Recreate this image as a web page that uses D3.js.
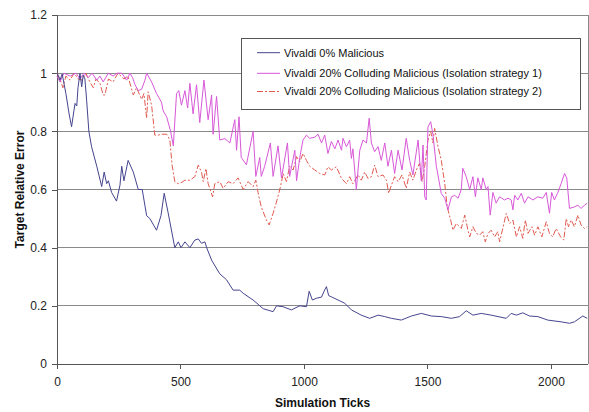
<!DOCTYPE html>
<html><head><meta charset="utf-8">
<script src="https://cdn.jsdelivr.net/npm/d3@7"></script>
<style>body{margin:0;background:#fff}svg{display:block}</style>
</head><body>
<svg id="c" width="589" height="412"></svg>
<script>
const seriesNames = ["Vivaldi 0% Malicious","Vivaldi 20% Colluding Malicious (Isolation strategy 1)","Vivaldi 20% Colluding Malicious (Isolation strategy 2)"];
const xTicks = [0,500,1000,1500,2000];
const yTicks = [0,0.2,0.4,0.6,0.8,1,1.2];

const blueT = [0,6,12,21,36,49,59,73,80,85,93,100,106,113,120,129,140,161,181,191,201,208,221,241,255,262,271,288,309,329,345,363,376,403,421,434,450,477,491,502,518,538,558,572,585,599,606,626,659,686,713,740,754,794,835,875,889,915,949,983,1010,1021,1034,1050,1071,1084,1091,1100,1111,1138,1165,1192,1232,1266,1300,1327,1354,1394,1435,1475,1516,1556,1597,1630,1657,1684,1718,1758,1819,1839,1860,1886,1913,1947,1987,2041,2075,2095,2129,2147];
const blueV = [1.0,0.99,0.976,0.997,0.93,0.86,0.816,0.896,0.887,0.95,1.0,0.953,0.993,0.98,0.907,0.80,0.747,0.68,0.61,0.66,0.62,0.63,0.59,0.56,0.615,0.68,0.63,0.70,0.66,0.60,0.60,0.51,0.50,0.46,0.51,0.587,0.52,0.40,0.42,0.40,0.42,0.40,0.426,0.43,0.415,0.42,0.40,0.357,0.31,0.29,0.254,0.254,0.243,0.22,0.19,0.18,0.20,0.197,0.186,0.20,0.197,0.25,0.22,0.226,0.23,0.255,0.266,0.235,0.231,0.22,0.209,0.186,0.168,0.157,0.168,0.163,0.157,0.151,0.165,0.174,0.165,0.163,0.157,0.163,0.183,0.168,0.174,0.168,0.157,0.174,0.168,0.176,0.165,0.163,0.151,0.145,0.14,0.145,0.165,0.157];

const pinkT = [0,12,28,53,77,93,109,127,142,161,174,187,208,227,243,262,282,295,306,316,329,343,356,363,383,403,423,430,444,460,471,484,493,504,518,529,538,551,565,578,595,612,626,632,646,659,680,700,720,727,737,746,767,794,805,821,827,841,864,875,895,909,933,942,963,970,983,996,1010,1023,1044,1057,1071,1084,1097,1111,1125,1138,1152,1158,1172,1185,1192,1198,1212,1226,1239,1253,1264,1273,1286,1300,1313,1327,1340,1354,1367,1381,1397,1414,1428,1441,1462,1475,1482,1489,1495,1502,1513,1522,1536,1556,1570,1583,1597,1610,1624,1637,1643,1657,1671,1684,1694,1704,1718,1724,1738,1745,1754,1765,1778,1792,1812,1826,1839,1846,1853,1866,1880,1893,1907,1927,1947,1967,1981,1994,2003,2014,2028,2041,2055,2064,2075,2095,2109,2122,2136,2147];
const pinkV = [0.99,0.97,1.0,0.99,1.0,0.98,1.0,0.985,1.0,0.976,0.99,0.97,1.0,0.99,1.0,1.0,0.976,1.0,0.985,0.96,0.94,0.945,0.976,1.0,0.97,0.93,0.90,0.87,0.85,0.80,0.75,0.93,0.94,0.89,0.94,0.88,0.965,0.86,0.96,0.83,0.976,0.84,0.925,0.79,0.92,0.77,0.775,0.76,0.84,0.735,0.85,0.71,0.685,0.80,0.645,0.71,0.645,0.68,0.76,0.645,0.75,0.64,0.76,0.645,0.735,0.63,0.71,0.77,0.787,0.776,0.78,0.79,0.76,0.787,0.724,0.765,0.74,0.77,0.735,0.776,0.747,0.77,0.707,0.74,0.60,0.735,0.77,0.76,0.845,0.76,0.73,0.747,0.70,0.76,0.68,0.735,0.655,0.735,0.667,0.776,0.70,0.65,0.77,0.63,0.753,0.575,0.564,0.815,0.833,0.79,0.68,0.586,0.57,0.53,0.575,0.58,0.57,0.60,0.673,0.644,0.60,0.644,0.575,0.64,0.60,0.64,0.60,0.61,0.512,0.59,0.553,0.575,0.564,0.57,0.564,0.53,0.58,0.564,0.587,0.553,0.575,0.564,0.575,0.57,0.59,0.518,0.59,0.564,0.59,0.62,0.655,0.64,0.535,0.54,0.546,0.535,0.546,0.553];

const redT = [0,12,24,36,53,69,86,101,117,133,147,158,174,187,194,208,227,247,271,287,309,322,343,352,363,369,383,396,410,423,444,457,466,477,491,506,518,538,558,572,585,592,603,612,630,639,659,673,693,713,733,754,774,794,805,814,827,848,859,875,891,905,916,929,942,956,970,983,996,1010,1023,1044,1064,1084,1097,1111,1131,1152,1172,1185,1198,1219,1232,1246,1259,1273,1286,1300,1320,1334,1343,1354,1367,1381,1397,1414,1428,1441,1455,1468,1478,1489,1502,1513,1522,1529,1543,1556,1570,1580,1594,1603,1617,1630,1637,1651,1664,1671,1684,1698,1711,1724,1734,1745,1758,1772,1785,1792,1805,1819,1833,1846,1860,1873,1886,1896,1907,1923,1934,1947,1963,1981,1994,2007,2021,2039,2052,2062,2071,2082,2095,2109,2122,2136,2147];
const redV = [1.0,0.98,0.95,0.99,0.976,1.0,0.98,0.976,1.0,0.97,0.95,0.98,0.965,0.925,0.925,0.98,0.97,1.0,0.98,0.99,0.925,0.95,0.91,0.93,0.845,0.936,0.89,0.787,0.787,0.79,0.79,0.77,0.684,0.627,0.62,0.625,0.632,0.632,0.644,0.684,0.66,0.627,0.672,0.62,0.575,0.62,0.627,0.604,0.627,0.62,0.64,0.60,0.627,0.61,0.632,0.59,0.54,0.495,0.478,0.518,0.564,0.61,0.655,0.627,0.68,0.667,0.713,0.695,0.724,0.70,0.68,0.667,0.655,0.65,0.678,0.667,0.678,0.638,0.62,0.644,0.62,0.65,0.632,0.66,0.638,0.644,0.684,0.644,0.65,0.632,0.587,0.615,0.644,0.627,0.65,0.604,0.66,0.632,0.667,0.69,0.627,0.68,0.77,0.80,0.76,0.81,0.747,0.70,0.62,0.54,0.495,0.46,0.483,0.472,0.466,0.512,0.46,0.437,0.472,0.449,0.443,0.455,0.42,0.449,0.46,0.437,0.455,0.42,0.466,0.518,0.483,0.495,0.437,0.472,0.432,0.495,0.449,0.472,0.443,0.472,0.437,0.489,0.449,0.437,0.466,0.437,0.426,0.50,0.472,0.495,0.472,0.512,0.478,0.466,0.472];

const svg = d3.select("#c");
const L = 57, R = 588, T = 15, B = 364;
const x = d3.scaleLinear().domain([0, 2150]).range([L, R]);
const y = d3.scaleLinear().domain([0, 1.2]).range([B, T]);
const font = "Liberation Sans, Arial, sans-serif";

// gridlines
svg.append("g").selectAll("line").data(yTicks.filter(d => d > 0)).join("line")
  .attr("x1", L).attr("x2", R).attr("y1", d => y(d)).attr("y2", d => y(d))
  .attr("stroke", "#8a8a8a").attr("stroke-width", 1).attr("shape-rendering", "crispEdges");
// right border
svg.append("line").attr("x1", R).attr("x2", R).attr("y1", T).attr("y2", B)
  .attr("stroke", "#8a8a8a").attr("shape-rendering", "crispEdges");

// axes
const yAxis = d3.axisLeft(y).tickValues(yTicks).tickSize(5).tickPadding(5).tickFormat(d => d3.format("")(d));
const gy = svg.append("g").attr("transform", `translate(${L},0)`).call(yAxis);
const xAxis = d3.axisBottom(x).tickValues(xTicks).tickSize(5).tickPadding(8).tickFormat(d3.format("d"));
const gx = svg.append("g").attr("transform", `translate(0,${B})`).call(xAxis);
[gx, gy].forEach(g => {
  g.select(".domain").attr("stroke", "#555").attr("shape-rendering", "crispEdges");
  g.selectAll(".tick line").attr("stroke", "#555").attr("shape-rendering", "crispEdges");
  g.selectAll("text").attr("font-family", font).attr("font-size", 12).attr("fill", "#222");
});
gy.select(".domain").attr("d", `M0.5,${B}V${T}`);
gx.select(".domain").attr("d", `M${L},0.5H${R}`);

// lines
const line = d3.line().x(d => x(d[0])).y(d => y(d[1]));
const zip = (t, v) => t.map((d, i) => [d, v[i]]);
const series = [
  {data: zip(blueT, blueV), color: "#45458f", dash: null},
  {data: zip(pinkT, pinkV), color: "#d858d8", dash: null},
  {data: zip(redT, redV), color: "#e05a50", dash: "6,2,2,2"}
];
svg.append("g").selectAll("path").data([series[2], series[1], series[0]]).join("path")
  .attr("d", d => line(d.data)).attr("fill", "none")
  .attr("stroke", d => d.color).attr("stroke-width", 1)
  .attr("stroke-dasharray", d => d.dash);

// legend
const lg = svg.append("g");
lg.append("rect").attr("x", 241.5).attr("y", 38.5).attr("width", 339).attr("height", 71)
  .attr("fill", "#fff").attr("stroke", "#555");
const rowsY = [52.7, 73.3, 91.5];
series.forEach((s, i) => {
  lg.append("line").attr("x1", 257).attr("x2", 280).attr("y1", rowsY[i]).attr("y2", rowsY[i])
    .attr("stroke", s.color).attr("stroke-width", 1).attr("stroke-dasharray", s.dash);
  lg.append("text").attr("x", 284).attr("y", rowsY[i]).attr("dy", "0.35em")
    .attr("font-family", font).attr("font-size", 11).attr("fill", "#111").text(seriesNames[i]);
});

// axis titles
svg.append("text").attr("x", (L + R) / 2).attr("y", 407).attr("text-anchor", "middle")
  .attr("font-family", font).attr("font-size", 12).attr("font-weight", "bold").attr("fill", "#111")
  .text("Simulation Ticks");
svg.append("text").attr("transform", `translate(24,${(T + B) / 2}) rotate(-90)`).attr("text-anchor", "middle")
  .attr("font-family", font).attr("font-size", 12).attr("font-weight", "bold").attr("fill", "#111")
  .text("Target Relative Error");
</script>
</body></html>
